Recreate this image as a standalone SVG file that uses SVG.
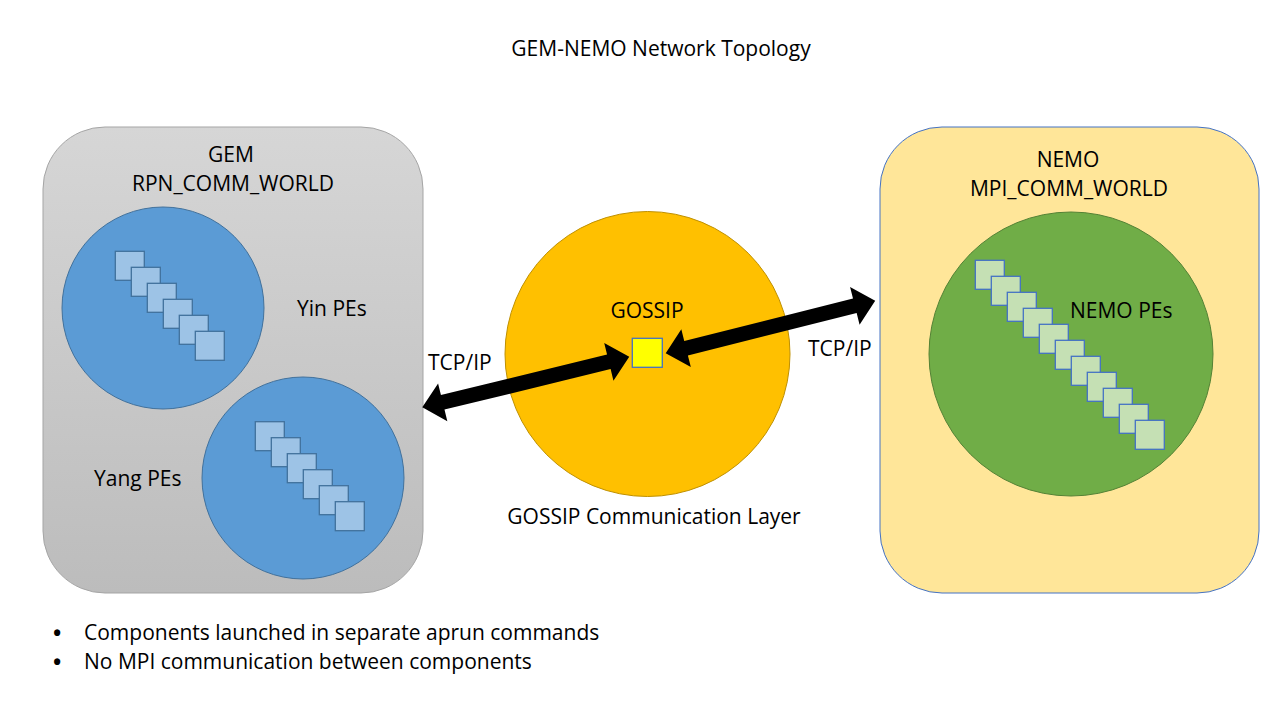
<svg xmlns="http://www.w3.org/2000/svg" width="1280" height="720" viewBox="0 0 1280 720">
<defs>
<linearGradient id="gemGrad" x1="0" y1="0" x2="0" y2="1">
<stop offset="0" stop-color="#d6d6d6"/>
<stop offset="1" stop-color="#bcbcbc"/>
</linearGradient>
</defs>
<style>
text{font-family:"Open Sans","Liberation Sans",sans-serif;font-size:21px;fill:#000}
.mid{text-anchor:middle}
.bullet{font-size:22px;font-weight:bold}
.blueSq{fill:#9dc3e6;stroke:#41719c;stroke-width:1.3}
.greenSq{fill:#c5e0b4;stroke:#4472c4;stroke-width:1.3}
.arrow{fill:#000}
</style>
<rect width="1280" height="720" fill="#fff"/>
<text class="mid" x="661" y="56">GEM-NEMO Network Topology</text>

<g id="gem">
<rect x="43" y="127" width="380" height="466" rx="62" ry="62" fill="url(#gemGrad)" stroke="#a5a5a5" stroke-width="1"/>
<text class="mid" x="231" y="162">GEM</text>
<text class="mid" x="233" y="191">RPN_COMM_WORLD</text>
</g>
<g id="yin">
<circle cx="163" cy="308" r="101" fill="#5b9bd5" stroke="#41719c" stroke-width="1"/>
<rect class="blueSq" x="115.3" y="251.3" width="29" height="29"/>
<rect class="blueSq" x="131.3" y="267.3" width="29" height="29"/>
<rect class="blueSq" x="147.3" y="283.3" width="29" height="29"/>
<rect class="blueSq" x="163.3" y="299.3" width="29" height="29"/>
<rect class="blueSq" x="179.3" y="315.3" width="29" height="29"/>
<rect class="blueSq" x="195.3" y="331.3" width="29" height="29"/>
<text x="297" y="316">Yin PEs</text>
</g>
<g id="yang">
<circle cx="303" cy="478" r="101" fill="#5b9bd5" stroke="#41719c" stroke-width="1"/>
<rect class="blueSq" x="255.3" y="421.7" width="29" height="29"/>
<rect class="blueSq" x="271.3" y="437.7" width="29" height="29"/>
<rect class="blueSq" x="287.3" y="453.7" width="29" height="29"/>
<rect class="blueSq" x="303.3" y="469.7" width="29" height="29"/>
<rect class="blueSq" x="319.3" y="485.7" width="29" height="29"/>
<rect class="blueSq" x="335.3" y="501.7" width="29" height="29"/>
<text x="94" y="486">Yang PEs</text>
</g>

<g id="gossip">
<circle cx="647.5" cy="354" r="142.5" fill="#ffc000" stroke="#bf9000" stroke-width="1"/>
<text class="mid" x="647" y="318">GOSSIP</text>
<rect x="632.3" y="338.3" width="30" height="29" fill="#ffff00" stroke="#4472c4" stroke-width="1.3"/>
<text class="mid" x="654" y="524">GOSSIP Communication Layer</text>
</g>

<g id="nemo">
<rect x="880" y="127" width="379" height="466" rx="62" ry="62" fill="#ffe699" stroke="#4472c4" stroke-width="1"/>
<text class="mid" x="1068" y="167">NEMO</text>
<text class="mid" x="1069" y="196">MPI_COMM_WORLD</text>
<circle cx="1071" cy="354" r="142" fill="#70ad47" stroke="#548235" stroke-width="1"/>
<rect class="greenSq" x="975.3" y="260.3" width="29" height="29"/>
<rect class="greenSq" x="991.3" y="276.3" width="29" height="29"/>
<rect class="greenSq" x="1007.3" y="292.3" width="29" height="29"/>
<rect class="greenSq" x="1023.3" y="308.3" width="29" height="29"/>
<rect class="greenSq" x="1039.3" y="324.3" width="29" height="29"/>
<rect class="greenSq" x="1055.3" y="340.3" width="29" height="29"/>
<rect class="greenSq" x="1071.3" y="356.3" width="29" height="29"/>
<rect class="greenSq" x="1087.3" y="372.3" width="29" height="29"/>
<rect class="greenSq" x="1103.3" y="388.3" width="29" height="29"/>
<rect class="greenSq" x="1119.3" y="404.3" width="29" height="29"/>
<rect class="greenSq" x="1135.3" y="420.3" width="29" height="29"/>
<text x="1070" y="318">NEMO PEs</text>
</g>

<g id="connectors">
<path class="arrow" transform="translate(422.3,407.3) rotate(-13.7)" d="M0,0 L21,-19.5 L21,-7.5 L192,-7.5 L192,-19.5 L213,0 L192,19.5 L192,7.5 L21,7.5 L21,19.5 Z"/>
<path class="arrow" transform="translate(665.7,353.3) rotate(-14.1)" d="M0,0 L21,-19.5 L21,-7.5 L195,-7.5 L195,-19.5 L216,0 L195,19.5 L195,7.5 L21,7.5 L21,19.5 Z"/>
<text x="428" y="370">TCP/IP</text>
<text x="808" y="356">TCP/IP</text>
</g>

<g id="notes">
<text class="bullet" x="53" y="641">•</text>
<text x="84" y="640">Components launched in separate aprun commands</text>
<text class="bullet" x="53" y="670">•</text>
<text x="84" y="669">No MPI communication between components</text>
</g>
</svg>
